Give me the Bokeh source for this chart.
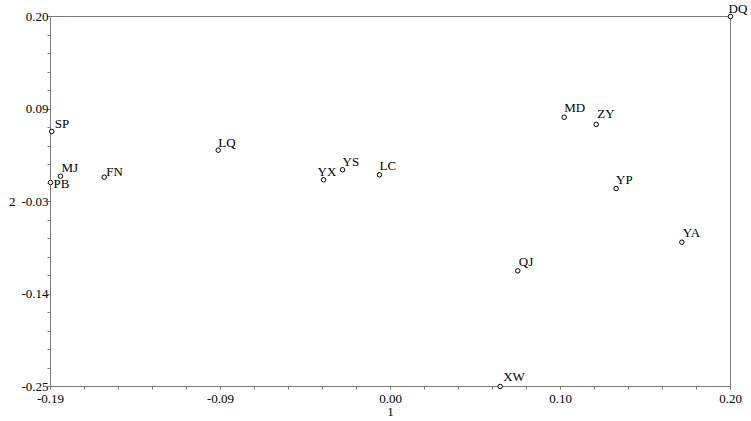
import numpy as np
from bokeh.plotting import figure
from bokeh.models import ColumnDataSource, FixedTicker, Range1d
from bokeh.core.properties import value
from bokeh.embed import file_html
from bokeh.resources import INLINE

# ---- data ----
names = ["DQ", "SP", "MJ", "PB", "FN", "LQ", "YX", "YS", "LC", "MD", "ZY", "YP", "YA", "QJ", "XW"]
dim1 = [0.200, -0.1893, -0.1843, -0.1900, -0.1592, -0.0938, -0.0334, -0.0225, -0.0013,
        0.1046, 0.1230, 0.1344, 0.1721, 0.0780, 0.0679]
dim2 = [0.200, 0.0601, 0.0058, -0.0019, 0.0046, 0.0374, 0.0014, 0.0136, 0.0075,
        0.0775, 0.0687, -0.0092, -0.0745, -0.1093, -0.250]
x_tick_labels = ["-0.19", "-0.09", "0.00", "0.10", "0.20"]
y_tick_labels = ["-0.25", "-0.14", "-0.03", "0.09", "0.20"]
x_min, x_max = -0.19, 0.20
y_min, y_max = -0.25, 0.20

# ---- label placement (screen px, style only) ----
label_dx = [-2, 3, 1, 3, 2, 0, -6, 0, 0, 0, 1, 0, 1, 1, 3]
label_dy = [-8, -8, -9, 1, -6, -8, -8, -8, -9, -10, -11, -9, -10, -9, -10]

FONT = "Liberation Serif"
AXC = "#7a7a7a"

p = figure(width=750, height=420, output_backend="svg", toolbar_location=None,
           x_range=Range1d(x_min, x_max), y_range=Range1d(y_min, y_max),
           min_border_left=50, min_border_right=20, min_border_top=16, min_border_bottom=34)
p.background_fill_color = "white"
p.border_fill_color = "white"
p.outline_line_color = AXC
p.outline_line_width = 1
p.grid.visible = False

xt = list(np.linspace(x_min, x_max, 5))
yt = list(np.linspace(y_min, y_max, 5))
xm = list(np.linspace(x_min, x_max, 21))
ym = list(np.linspace(y_min, y_max, 21))
p.xaxis.ticker = FixedTicker(ticks=xt, minor_ticks=xm)
p.yaxis.ticker = FixedTicker(ticks=yt, minor_ticks=ym)
p.xaxis.major_label_overrides = {xt[i]: x_tick_labels[i] for i in range(5)}
p.yaxis.major_label_overrides = {yt[i]: y_tick_labels[i] for i in range(5)}

for ax in (p.xaxis, p.yaxis):
    ax.axis_line_color = AXC
    ax.major_tick_line_color = AXC
    ax.minor_tick_line_color = AXC
    ax.major_tick_in = 0
    ax.major_tick_out = 3
    ax.minor_tick_in = 0
    ax.minor_tick_out = 3
    ax.major_label_text_font = FONT
    ax.major_label_text_font_size = "13px"
    ax.major_label_text_color = "black"
    ax.axis_label_text_font = FONT
    ax.axis_label_text_font_size = "13px"
    ax.axis_label_text_font_style = "normal"
    ax.axis_label_text_color = "black"

p.xaxis.axis_label = "1"
p.xaxis.major_label_standoff = 5
p.xaxis.axis_label_standoff = 2
p.yaxis.axis_label = "2"
p.yaxis.axis_label_orientation = "horizontal"
p.yaxis.major_label_standoff = -1
p.yaxis.axis_label_standoff = 3

src = ColumnDataSource(dict(x=dim1, y=dim2, name=names, dx=label_dx, dy=label_dy))
p.scatter("x", "y", source=src, size=4.5, marker="circle", fill_color="white",
          line_color="black", line_width=1, level="overlay")
p.text("x", "y", text="name", source=src, x_offset="dx", y_offset="dy",
       text_font=value(FONT), text_font_size="13px", text_color="black",
       text_align="left", text_baseline="alphabetic", level="overlay")

open("out.html", "w").write(file_html(p, INLINE))
